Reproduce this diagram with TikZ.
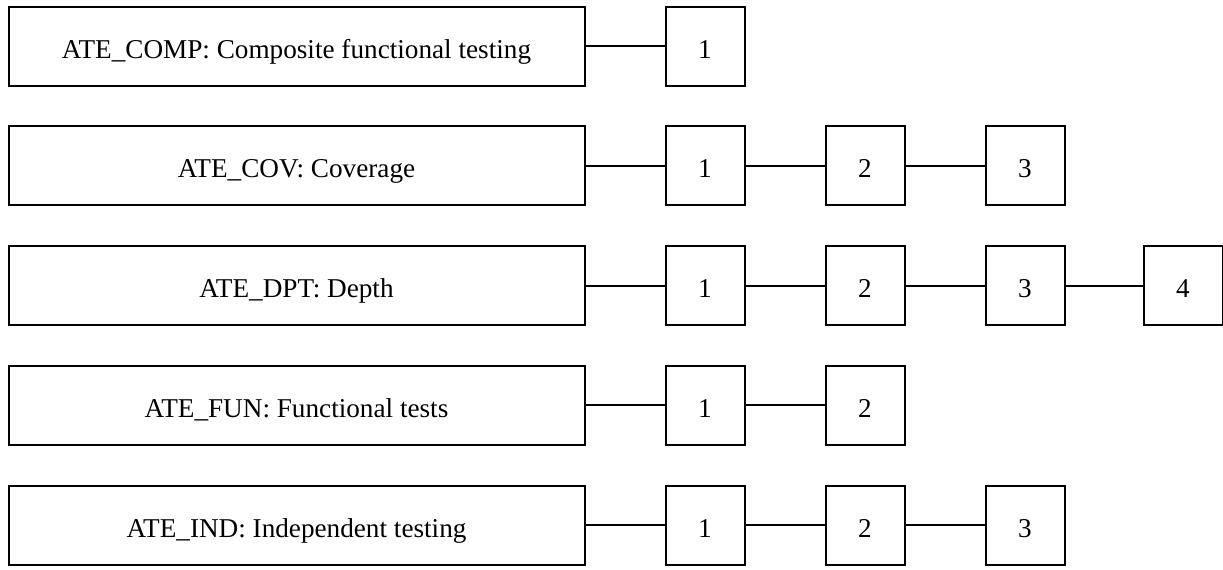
\documentclass[tikz,border=0pt]{standalone}
\usepackage{fontspec}
\setmainfont{Liberation Serif}
\begin{document}
\begin{tikzpicture}[x=1pt,y=-1pt,
  every node/.style={font=\fontsize{27.2}{30}\selectfont, text height=24pt, text depth=0pt},
  bigbox/.style={draw, line width=2pt, minimum width=576pt, minimum height=79pt, inner sep=0pt, anchor=center},
  smallbox/.style={draw, line width=2pt, minimum width=79pt, minimum height=79pt, inner sep=0pt, anchor=center},
  link/.style={line width=2pt}]
\useasboundingbox (0,0) rectangle (1223,570);
% row 1
\node[bigbox] (comp) at (296.5,46) {ATE\_COMP: Composite functional testing};
\node[smallbox] (comp1) at (705,46) {1};
\draw[link] (comp) -- (comp1);
% row 2
\node[bigbox] (cov) at (296.5,165.75) {ATE\_COV: Coverage};
\node[smallbox] (cov1) at (705,165.75) {1};
\node[smallbox] (cov2) at (865,165.75) {2};
\node[smallbox] (cov3) at (1025,165.75) {3};
\draw[link] (cov) -- (cov1);
\draw[link] (cov1) -- (cov2);
\draw[link] (cov2) -- (cov3);
% row 3
\node[bigbox] (dpt) at (296.5,285.5) {ATE\_DPT: Depth};
\node[smallbox] (dpt1) at (705,285.5) {1};
\node[smallbox] (dpt2) at (865,285.5) {2};
\node[smallbox] (dpt3) at (1025,285.5) {3};
\node[smallbox] (dpt4) at (1183,285.5) {4};
\draw[link] (dpt) -- (dpt1);
\draw[link] (dpt1) -- (dpt2);
\draw[link] (dpt2) -- (dpt3);
\draw[link] (dpt3) -- (dpt4);
% row 4
\node[bigbox] (fun) at (296.5,405.25) {ATE\_FUN: Functional tests};
\node[smallbox] (fun1) at (705,405.25) {1};
\node[smallbox] (fun2) at (865,405.25) {2};
\draw[link] (fun) -- (fun1);
\draw[link] (fun1) -- (fun2);
% row 5
\node[bigbox] (ind) at (296.5,525) {ATE\_IND: Independent testing};
\node[smallbox] (ind1) at (705,525) {1};
\node[smallbox] (ind2) at (865,525) {2};
\node[smallbox] (ind3) at (1025,525) {3};
\draw[link] (ind) -- (ind1);
\draw[link] (ind1) -- (ind2);
\draw[link] (ind2) -- (ind3);
\end{tikzpicture}
\end{document}
